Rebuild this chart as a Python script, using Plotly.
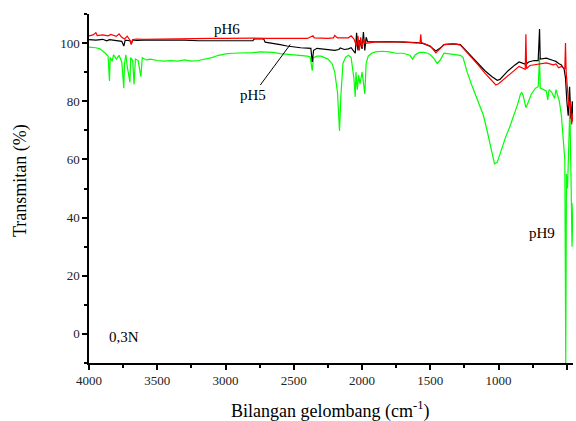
import plotly.graph_objects as go

# pH5 (black)
w_ph5 = [4000, 3950, 3900, 3870, 3850, 3800, 3760, 3745, 3735, 3700, 3690, 3680, 3650, 3600, 3500, 3400, 3300, 3200, 3000,
         2850, 2800, 2790, 2720, 2710, 2650, 2600, 2550, 2500, 2450, 2400, 2375, 2365, 2355, 2330, 2300, 2250, 2200, 2170,
         2160, 2130, 2100, 2080, 2060, 2050, 2040, 2030, 2020, 2000, 1990, 1980, 1970, 1960, 1900, 1800, 1700, 1600, 1550,
         1500, 1460, 1430, 1400, 1330, 1280, 1250, 1200, 1150, 1100, 1050, 1010, 990, 960, 930, 880, 850, 820, 800, 780,
         740, 710, 700, 695, 650, 600, 580, 560, 540, 520, 510, 500, 490, 480, 470, 460, 455]
t_ph5 = [101.2, 101.0, 101.3, 100.8, 101.2, 101.0, 100.6, 99.0, 101.0, 100.8, 99.8, 101.1, 100.9, 101.0, 101.0, 101.1, 101.0,
         100.8, 100.8, 100.8, 100.8, 101.4, 101.4, 100.3, 100.0, 99.5, 99.0, 98.6, 98.4, 98.3, 98.2, 93.5, 97.5, 98.2, 98.0,
         97.8, 97.5, 97.8, 98.3, 97.8, 98.0, 98.4, 97.0, 96.5, 103.5, 97.5, 101.0, 98.0, 103.8, 97.5, 102.0, 100.5, 100.4,
         100.5, 100.3, 100.2, 99.8, 98.8, 97.3, 98.2, 99.5, 99.7, 99.5, 98.0, 95.8, 93.0, 90.5, 88.5, 87.2, 87.5, 89.0, 90.5,
         92.5, 93.5, 93.0, 92.7, 93.5, 94.0, 94.0, 104.8, 94.5, 94.8, 94.0, 93.7, 93.0, 92.5, 91.0, 88.0, 80.0, 75.0, 85.0,
         74.0, 80.0, 73.0]

# pH6 (red)
w_ph6 = [4000, 3970, 3950, 3940, 3900, 3860, 3840, 3800, 3780, 3760, 3740, 3720, 3700, 3690, 3680, 3650, 3600, 3500, 3400,
         3300, 3200, 3100, 3000, 2900, 2800, 2700, 2600, 2500, 2400, 2360, 2350, 2300, 2250, 2210, 2200, 2180, 2100, 2080,
         2060, 2040, 2030, 2020, 2010, 2000, 1990, 1980, 1960, 1900, 1800, 1700, 1600, 1575, 1570, 1565, 1500, 1460, 1430,
         1400, 1330, 1280, 1250, 1200, 1150, 1100, 1050, 1020, 1000, 960, 920, 880, 850, 820, 805, 800, 795, 770, 740, 700,
         650, 600, 580, 560, 540, 515, 510, 505, 495, 485, 475, 465, 455]
t_ph6 = [102.5, 102.8, 103.6, 102.6, 102.8, 102.5, 103.0, 102.3, 103.2, 102.0, 101.4, 102.4, 101.0, 99.5, 101.2, 101.4, 101.3,
         101.4, 101.5, 101.5, 101.5, 101.6, 101.6, 101.7, 101.7, 101.6, 101.7, 101.6, 101.6, 102.5, 101.8, 101.6, 101.6,
         101.8, 102.6, 101.8, 101.8, 102.5, 101.5, 99.0, 102.5, 97.5, 102.0, 98.5, 101.5, 100.0, 100.0, 100.4, 100.3, 100.4,
         100.0, 100.2, 103.0, 100.2, 99.0, 96.6, 98.0, 99.5, 99.8, 99.3, 97.8, 95.3, 92.5, 89.7, 87.0, 85.6, 86.0, 87.5, 89.0,
         90.8, 92.0, 91.5, 91.0, 103.0, 91.2, 92.3, 92.5, 93.0, 93.2, 92.5, 92.8, 91.5, 92.0, 91.0, 100.0, 90.0, 82.0, 78.0,
         80.0, 72.0, 76.0]

# pH9 (green)
w_ph9 = [4000, 3950, 3920, 3900, 3880, 3860, 3850, 3845, 3830, 3820, 3800, 3780, 3760, 3745, 3740, 3730, 3720, 3700, 3695,
         3680, 3670, 3660, 3640, 3620, 3610, 3580, 3550, 3500, 3450, 3400, 3350, 3300, 3250, 3200, 3150, 3100, 3050, 3000,
         2950, 2900, 2850, 2800, 2750, 2700, 2650, 2600, 2550, 2500, 2450, 2400, 2380, 2365, 2355, 2330, 2300, 2250, 2220,
         2200, 2180, 2165, 2155, 2140, 2120, 2100, 2080, 2060, 2050, 2045, 2035, 2025, 2015, 2000, 1990, 1980, 1970, 1955,
         1930, 1900, 1850, 1800, 1750, 1700, 1650, 1630, 1610, 1580, 1550, 1520, 1500, 1470, 1450, 1430, 1400, 1360, 1320,
         1280, 1260, 1230, 1200, 1170, 1140, 1110, 1080, 1050, 1030, 1010, 990, 970, 950, 920, 890, 860, 840, 830, 820, 800,
         780, 760, 730, 710, 700, 695, 670, 650, 640, 630, 610, 590, 580, 565, 555, 540, 525, 515, 508, 503, 495, 485, 478,
         470, 462, 455]
t_ph9 = [98.6, 98.4, 98.0, 97.4, 96.5, 95.5, 87.0, 95.0, 93.8, 96.0, 94.5, 95.8, 93.5, 84.5, 93.0, 96.0, 92.0, 86.5, 95.0,
         94.0, 85.8, 94.5, 94.0, 88.5, 95.0, 94.2, 94.5, 94.0, 93.8, 94.0, 93.8, 94.2, 93.8, 94.0, 94.5, 95.0, 95.8, 96.3,
         96.5, 96.6, 96.5, 96.7, 97.0, 97.0, 96.8, 96.4, 96.2, 96.0, 95.8, 95.5, 95.2, 90.5, 95.0, 95.5, 95.5, 94.5, 93.0,
         90.0, 83.0, 69.8, 82.0, 93.0, 95.2, 95.8, 95.0, 88.0, 81.5, 90.0, 84.0, 89.0, 86.0, 90.0, 86.5, 82.5, 93.0, 95.5,
         96.5, 97.0, 97.2, 97.0, 96.5, 96.5, 95.8, 94.5, 96.0, 96.8, 96.8, 96.5, 96.0, 94.5, 93.0, 94.0, 96.5, 96.3, 96.0,
         95.8, 95.0, 90.0, 86.0, 82.5, 79.0, 75.0, 69.0, 62.5, 58.5, 59.0, 62.0, 65.0, 67.5, 71.0, 75.0, 79.0, 82.5, 83.0,
         82.0, 77.8, 80.0, 82.5, 84.5, 85.0, 95.0, 84.5, 84.0, 83.5, 80.5, 84.0, 83.0, 81.0, 84.0, 81.0, 80.0, 75.0, 66.0,
         60.0, -10.0, 55.0, 50.0, 70.0, 78.0, 55.0, 30.0, 45.0]

x_ticks = [4000, 3500, 3000, 2500, 2000, 1500, 1000, 500]
y_ticks = [0, 20, 40, 60, 80, 100]

FONT = "Times New Roman, Liberation Serif, serif"

fig = go.Figure()
fig.add_trace(go.Scatter(x=w_ph9, y=t_ph9, mode="lines", line=dict(color="#00ff00", width=1.2), name="pH9"))
fig.add_trace(go.Scatter(x=w_ph5, y=t_ph5, mode="lines", line=dict(color="#000000", width=1.2), name="pH5"))
fig.add_trace(go.Scatter(x=w_ph6, y=t_ph6, mode="lines", line=dict(color="#ff0000", width=1.2), name="pH6"))

axis_common = dict(showline=True, linecolor="black", linewidth=1.5, ticks="outside", ticklen=5, tickwidth=1.5,
                   tickcolor="black", showgrid=False, zeroline=False, mirror=False,
                   tickfont=dict(family=FONT, size=13, color="#222222"))

fig.update_layout(
    width=576, height=421,
    margin=dict(l=89, r=3, t=14, b=58),
    paper_bgcolor="white", plot_bgcolor="white",
    showlegend=False,
    font=dict(family=FONT, color="black"),
    xaxis=dict(range=[4000, 455], tickvals=x_ticks, ticktext=[str(v) for v in x_ticks],
               minor=dict(dtick=250, ticks="outside", ticklen=3, tickwidth=1.5, tickcolor="black", showgrid=False),
               **axis_common),
    yaxis=dict(range=[-10, 110], tickvals=y_ticks, ticktext=[str(v) for v in y_ticks],
               minor=dict(dtick=10, ticks="outside", ticklen=3, tickwidth=1.5, tickcolor="black", showgrid=False),
               **axis_common),
    annotations=[
        dict(text="Bilangan gelombang (cm<sup>-1</sup>)", xref="paper", yref="paper", x=0.498, y=-0.135,
             xanchor="center", yanchor="middle", showarrow=False, font=dict(family=FONT, size=18, color="black")),
        dict(text="Transmitan (%)", xref="paper", yref="paper", x=-0.1426, y=0.524, textangle=-90,
             xanchor="center", yanchor="middle", showarrow=False, font=dict(family=FONT, size=18, color="black")),
        dict(text="pH6", xref="paper", yref="paper", x=(227 - 89) / 484, y=(363 - 29) / 349,
             xanchor="center", yanchor="middle", showarrow=False, font=dict(family=FONT, size=15, color="black")),
        dict(text="pH5", x=2526, y=99.5, xref="x", yref="y", ax=-37, ay=50, showarrow=True, arrowhead=0,
             arrowwidth=1, arrowcolor="black", font=dict(family=FONT, size=15, color="black")),
        dict(text="pH9", xref="paper", yref="paper", x=(542 - 89) / 484, y=(363 - 233) / 349,
             xanchor="center", yanchor="middle", showarrow=False, font=dict(family=FONT, size=15, color="black")),
        dict(text="0,3N", xref="paper", yref="paper", x=(123.5 - 89) / 484, y=(363 - 337) / 349,
             xanchor="center", yanchor="middle", showarrow=False, font=dict(family=FONT, size=15, color="black")),
    ],
)

fig.write_html("out.html", config={"displayModeBar": False},
               post_script="document.body.style.margin='0';document.body.style.overflow='hidden';")
